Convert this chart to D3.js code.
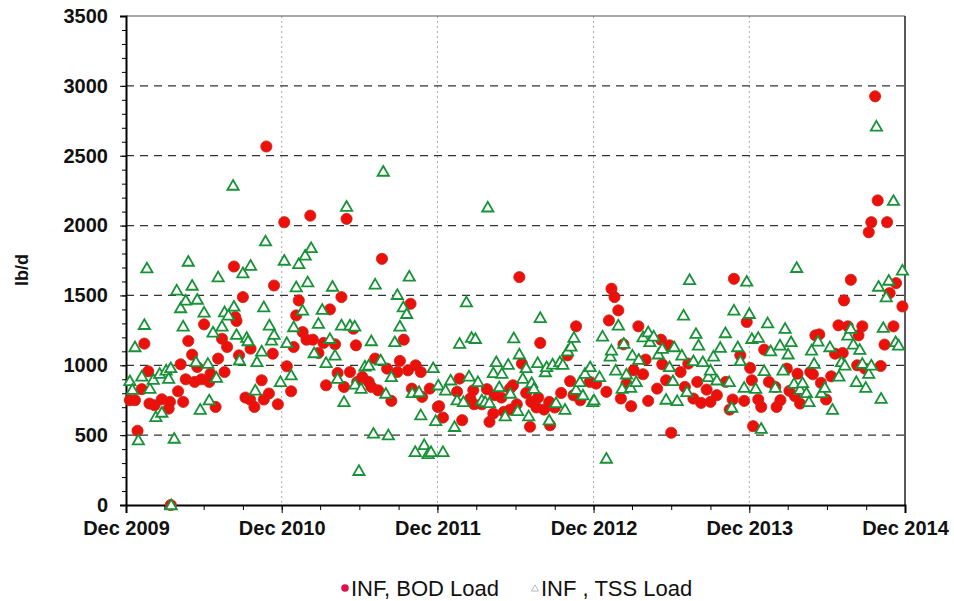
<!DOCTYPE html>
<html>
<head>
<meta charset="utf-8">
<style>
  body { margin: 0; background: #fff; }
  text { font-family: "Liberation Sans", Arial, sans-serif; }
</style>
</head>
<body>
<svg></svg>
<script src="https://cdnjs.cloudflare.com/ajax/libs/d3/7.8.5/d3.min.js"></script>
<script>

// months since Dec 2009, load in lb/d
var bodLoad = [
  [0.3,750],[0.7,750],[0.9,531],[1.2,829],[1.4,1155],[1.7,957],[1.8,726],[2.2,714],[2.75,757],[3.3,690],
  [3.4,738],[3.45,0],[4.0,814],[4.2,1007],[4.4,738],[4.6,900],[4.8,1174],[5.1,1076],[5.3,881],[5.5,988],
  [5.8,900],[6.0,1293],[6.4,881],[6.5,940],[6.9,702],[7.1,1048],[7.4,1190],[7.6,952],[7.8,1131],[8.3,1707],
  [8.4,1345],[8.5,1317],[8.7,1071],[9.0,1488],[9.2,769],[9.55,755],[9.6,1119],[9.9,702],[10.45,893],[10.6,755],
  [10.8,2566],[11.0,798],[11.3,1083],[11.4,1571],[11.7,721],
  [12.2,2024],[12.4,993],[12.7,814],[12.9,1131],[13.1,1357],[13.3,1464],[13.6,1238],[13.9,1183],[14.2,2071],[14.4,1183],
  [14.8,1088],[15.2,1160],[15.4,857],[15.7,1400],[16.1,1150],[16.3,945],[16.6,1488],[16.8,845],[17.0,2048],[17.25,952],
  [17.5,1262],[17.7,1143],[17.8,881],[18.2,917],[18.7,881],[18.9,845],[19.2,1048],[19.4,821],[19.7,1762],[20.1,976],
  [20.45,745],[20.9,952],[21.1,1031],[21.4,1183],[21.7,964],[21.9,1440],[22.0,833],[22.3,1000],[22.7,952],[22.8,774],
  [23.4,833],[24.0,702],
  [24.1,707],[24.4,626],[25.5,810],[25.7,905],[25.9,607],[26.5,762],[26.75,821],[26.8,721],[27.4,721],[27.8,829],
  [28.0,595],[28.3,655],[28.4,786],[28.9,769],[29.1,667],[29.55,833],[29.6,683],[29.8,857],[30.1,721],[30.3,1631],
  [30.5,1012],[30.8,802],[31.1,560],[31.2,738],[31.6,698],[31.75,769],[31.9,1160],[32.2,683],[32.6,738],[32.65,571],
  [33.0,698],[33.5,802],[34.0,1071],[34.2,886],[34.45,786],[34.65,1279],[35.0,750],[35.7,881],
  [36.2,869],[37.0,810],[37.2,1321],[37.4,1548],[37.6,1488],[37.9,1393],[38.1,762],[38.3,1150],[38.55,869],[38.9,707],
  [39.1,964],[39.45,1279],[39.8,936],[40.0,1041],[40.2,745],[40.9,833],[41.2,1183],[41.3,1007],[41.6,893],[41.85,1143],
  [42.0,517],[42.7,952],[43.05,845],[43.3,1012],[43.7,762],[44.0,881],[44.3,731],[44.7,826],[45.0,738],[45.5,786],
  [46.2,881],[46.5,683],[46.7,755],[46.8,1619],[47.3,1071],[47.6,745],[47.8,1310],[48.05,981],[48.2,893],[48.3,564],
  [48.7,755],[48.9,702],[49.15,1112],[49.5,881],[50.0,845],[50.1,702],[50.4,750],[50.9,976],[51.1,817],[51.5,779],
  [51.7,940],[51.9,726],[52.7,952],[52.9,936],[53.1,1214],[53.4,1221],[53.5,874],[53.9,755],[54.3,921],[54.6,1083],
  [54.85,1286],[55.2,1088],[55.3,1464],[55.6,1279],[55.8,1612],[56.3,1000],[56.4,1214],[56.7,1279],[56.9,976],[57.2,1952],
  [57.4,2024],[57.7,2925],[57.9,2180],[58.1,995],[58.4,1148],[58.6,2024],[58.8,1517],[59.1,1279],[59.3,1588],[59.8,1421]
];

var tssLoad = [
  [0.3,888],[0.5,826],[0.7,1131],[0.95,464],[1.2,921],[1.4,1290],[1.6,1695],[1.85,833],[2.1,898],[2.3,631],
  [2.6,940],[2.75,662],[3.1,964],[3.3,905],[3.45,981],[3.47,0],[3.7,476],[3.9,1536],[4.2,1410],[4.4,1279],
  [4.6,1464],[4.8,1743],[5.1,1571],[5.4,1024],[5.5,1471],[5.7,683],[6.0,1379],[6.3,1012],[6.4,750],[6.7,1236],
  [6.95,912],[7.1,1631],[7.4,1279],[7.6,1381],[7.9,1357],[8.25,2287],[8.3,1421],[8.5,1219],[8.75,1036],[9.0,1660],
  [9.3,1198],[9.4,1174],[9.6,1714],[9.95,821],[10.1,1024],[10.45,1100],[10.6,1417],[10.75,1888],[11.05,1286],[11.2,1179],
  [11.4,1219],[11.9,881],
  [12.2,1750],[12.4,1160],[12.7,929],[12.9,1274],[13.1,1560],[13.3,1726],[13.6,1393],[13.8,1786],[14.0,1595],[14.25,1840],
  [14.5,1088],[14.8,1298],[15.1,1398],[15.4,1017],[15.7,1190],[15.9,1564],[16.1,1071],[16.3,905],[16.6,1286],[16.8,738],
  [17.0,2136],[17.25,1286],[17.6,1279],[17.65,864],[17.95,245],[18.1,833],[18.4,993],[18.7,1000],[18.9,1174],[19.05,512],
  [19.2,1579],[19.6,1036],[19.8,2387],[20.0,798],[20.2,500],[20.45,917],[20.7,1167],[20.9,1505],[21.1,1279],[21.35,1417],
  [21.6,1369],[21.8,1636],[22.05,802],[22.26,380],[22.56,810],[22.7,643],[22.95,430],[23.26,366],[23.49,380],[23.66,981],
  [23.84,602],[24.05,857],[24.41,380],
  [24.6,821],[25.0,893],[25.3,560],[25.5,750],[25.7,1155],[26.0,738],[26.2,1452],[26.4,921],[26.6,1198],[26.9,1190],
  [27.1,881],[27.4,750],[27.65,738],[27.85,2131],[28.0,731],[28.3,945],[28.5,1024],[28.75,845],[28.95,940],[29.2,636],
  [29.45,1005],[29.6,798],[29.85,1195],[30.15,674],[30.3,1079],[30.55,905],[30.8,981],[31.0,636],[31.25,874],[31.4,833],
  [31.7,1017],[31.9,1340],[32.3,952],[32.4,988],[32.6,607],[32.85,1007],[33.1,731],[33.4,1024],[33.65,1005],[33.8,683],
  [34.0,1102],[34.25,1136],[34.5,1198],[34.65,826],[34.95,881],[35.2,786],[35.35,940],[35.75,988],[35.95,738],
  [36.05,750],[36.45,917],[36.7,1207],[37.0,333],[37.3,1064],[37.4,1107],[37.7,964],[37.9,1286],[38.2,833],[38.35,1155],
  [38.55,936],[38.85,840],[39.0,1071],[39.3,881],[39.5,1041],[39.8,1202],[40.2,1238],[40.35,1167],[40.65,1207],[41.0,1079],
  [41.3,1119],[41.6,755],[41.85,988],[42.1,888],[42.2,1131],[42.45,745],[42.8,1071],[42.95,1357],[43.2,810],[43.4,1612],
  [43.7,1031],[43.9,1226],[44.1,1143],[44.4,1024],[44.85,917],[45.0,964],[45.25,1064],[45.5,893],[45.75,1126],[46.15,1231],
  [46.45,881],[46.65,698],[46.8,1393],[47.1,1131],[47.3,1031],[47.6,840],[47.8,1600],[48.0,1369],[48.2,1190],
  [48.5,833],[48.7,1198],[48.9,547],[49.15,960],[49.4,1302],[49.65,1102],[50.0,840],[50.35,1143],[50.6,964],[50.75,1262],
  [51.0,1079],[51.2,1167],[51.45,869],[51.65,1698],[51.9,826],[52.1,874],[52.4,802],[52.6,738],[52.8,1107],[53.0,1012],
  [53.3,1171],[53.55,802],[53.8,840],[54.2,1131],[54.4,683],[54.9,921],[55.1,1024],[55.35,1000],[55.6,1214],[55.8,1262],
  [56.0,1150],[56.25,881],[56.5,1112],[56.7,1012],[56.95,840],[57.2,940],[57.4,1000],[57.8,2710],[57.95,1564],[58.15,762],
  [58.3,1269],[58.55,1488],[58.75,1607],[59.1,2178],[59.25,1167],[59.5,1143],[59.8,1679]
];

var yTicks = [0, 500, 1000, 1500, 2000, 2500, 3000, 3500];
var yGrid = [500, 1000, 1500, 2000, 2500, 3000];
var yearTicks = [0, 12, 24, 36, 48, 60];   // months from Dec 2009
var legendNames = ["INF, BOD Load", "INF , TSS Load"];

var width = 954,
    height = 601;
var plotL = 126, plotR = 905, plotT = 16, plotB = 505;

var svg = d3.select("svg")
    .attr("width", width)
    .attr("height", height);

var start = new Date(2009, 11, 1);
function toDate(m) { return d3.timeDay.offset(start, Math.round(m * 30.44)); }

var x = d3.scaleTime()
    .domain([start, new Date(2014, 11, 1)])
    .range([plotL, plotR]);

var y = d3.scaleLinear()
    .domain([0, 3500])
    .range([plotB, plotT]);

// GRID
svg.append("g").selectAll("line")
    .data(yearTicks.slice(1, -1))
    .enter().append("line")
    .attr("x1", function(d) { return x(d3.timeMonth.offset(start, d)); })
    .attr("x2", function(d) { return x(d3.timeMonth.offset(start, d)); })
    .attr("y1", plotT).attr("y2", plotB)
    .attr("stroke", "#aaa")
    .attr("stroke-dasharray", "2,3");

svg.append("g").selectAll("line")
    .data(yGrid)
    .enter().append("line")
    .attr("x1", plotL).attr("x2", plotR)
    .attr("y1", y).attr("y2", y)
    .attr("stroke", "#333")
    .attr("stroke-width", 1.3)
    .attr("stroke-dasharray", "8,6");

// frame top/right
svg.append("line").attr("x1", plotL).attr("x2", plotR).attr("y1", plotT).attr("y2", plotT)
    .attr("stroke", "#555").attr("stroke-width", 1.2);
svg.append("line").attr("x1", plotR).attr("x2", plotR).attr("y1", plotT).attr("y2", plotB)
    .attr("stroke", "#222").attr("stroke-width", 1.5);

// AXES
var xMinor = svg.append("g")
    .attr("transform", "translate(0," + plotB + ")")
    .call(d3.axisBottom(x)
        .tickValues(d3.range(0, 61, 3).map(function(m) { return d3.timeMonth.offset(start, m); }))
        .tickSize(5).tickFormat(""));
xMinor.select(".domain").remove();

var xAxis = svg.append("g")
    .attr("transform", "translate(0," + plotB + ")")
    .call(d3.axisBottom(x)
        .tickValues(yearTicks.map(function(m) { return d3.timeMonth.offset(start, m); }))
        .tickSize(8).tickPadding(8)
        .tickFormat(d3.timeFormat("%b %Y")));
xAxis.select(".domain").attr("stroke", "#000").attr("stroke-width", 2);
xAxis.selectAll("text").attr("font-size", 20).attr("font-weight", "bold")
    .attr("fill", "#111").attr("font-family", "Liberation Sans, Arial, sans-serif");

var yMinor = svg.append("g")
    .attr("transform", "translate(" + plotL + ",0)")
    .call(d3.axisLeft(y).tickValues(d3.range(0, 3501, 100)).tickSize(4).tickFormat(""));
yMinor.select(".domain").remove();

var yAxis = svg.append("g")
    .attr("transform", "translate(" + plotL + ",0)")
    .call(d3.axisLeft(y).tickValues(yTicks).tickSize(6).tickPadding(12)
        .tickFormat(d3.format("d")));
yAxis.select(".domain").attr("stroke", "#000").attr("stroke-width", 2);
yAxis.selectAll("text").attr("font-size", 20).attr("font-weight", "bold")
    .attr("fill", "#111").attr("font-family", "Liberation Sans, Arial, sans-serif");

svg.append("text")
    .attr("transform", "translate(28,270) rotate(-90)")
    .attr("text-anchor", "middle")
    .attr("font-size", 18)
    .attr("font-weight", "bold")
    .attr("fill", "#111")
    .text("lb/d");

// POINTS
svg.append("g").selectAll("circle")
    .data(bodLoad)
    .enter().append("circle")
    .attr("cx", function(d) { return x(toDate(d[0])); })
    .attr("cy", function(d) { return y(d[1]); })
    .attr("r", 5.6)
    .attr("fill", "#ec0f0a")
    .attr("stroke", "#c8261a")
    .attr("stroke-width", 0.8);

var tri = d3.symbol().type(d3.symbolTriangle).size(55);
svg.append("g").selectAll("path")
    .data(tssLoad)
    .enter().append("path")
    .attr("transform", function(d) { return "translate(" + x(toDate(d[0])) + "," + (y(d[1]) + 1) + ")"; })
    .attr("d", tri)
    .attr("fill", "#fff")
    .attr("stroke", "#179237")
    .attr("stroke-width", 1.8);

// LEGEND
var legend = svg.append("g").attr("font-size", 22).attr("fill", "#111");
legend.append("circle").attr("cx", 345).attr("cy", 588).attr("r", 3.8).attr("fill", "#e0104a");
legend.append("text").attr("x", 351).attr("y", 596).text(legendNames[0]);
legend.append("path")
    .attr("transform", "translate(535,589)")
    .attr("d", d3.symbol().type(d3.symbolTriangle).size(22))
    .attr("fill", "none").attr("stroke", "#bbb").attr("stroke-width", 1);
legend.append("text").attr("x", 541).attr("y", 596).text(legendNames[1]);

</script>
</body>
</html>
